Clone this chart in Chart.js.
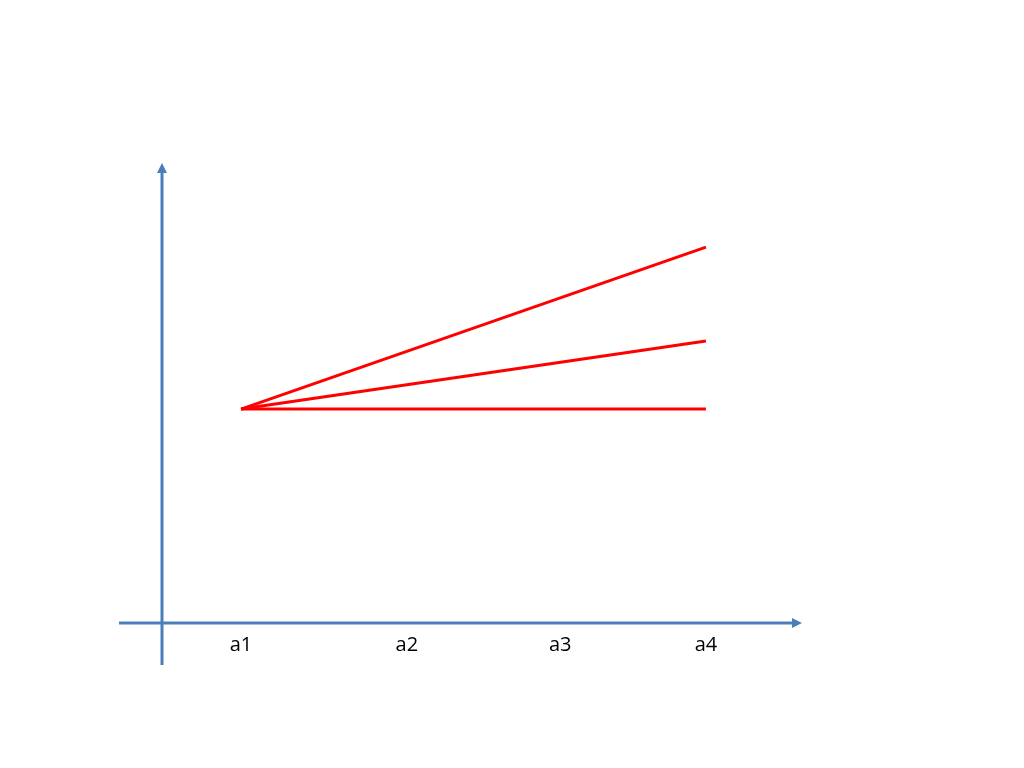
<!DOCTYPE html>
<html>
<head>
<meta charset="utf-8">
<script src="https://cdn.jsdelivr.net/npm/chart.js@4/dist/chart.umd.min.js"></script>
<style>
  html, body { margin: 0; padding: 0; background: #fff; }
  #wrap { width: 1024px; height: 768px; }
</style>
</head>
<body>
<div id="wrap"><canvas id="chart" width="1024" height="768"></canvas></div>
<script>
// categories and where their labels sit on the x scale
const categories = ['a1', 'a2', 'a3', 'a4'];
const tickPos = [1, 2.07, 3.06, 4];

// each line runs from a1 to a4
const lineX = [1, 4];
const steepLine = [4.65, 8.17];
const midLine = [4.65, 6.13];
const flatLine = [4.65, 4.65];

const axisColor = '#4A7EBB';
const lineColor = '#FF0000';

function pts(ys) {
  return ys.map((y, i) => ({ x: lineX[i], y: y }));
}

// draws the two blue axes with arrow heads, placed through the scales
const arrowAxes = {
  id: 'arrowAxes',
  beforeDatasetsDraw(chart) {
    const ctx = chart.ctx;
    const xs = chart.scales.x, ys = chart.scales.y;
    const ox = xs.getPixelForValue(0.49);
    const oy = ys.getPixelForValue(0);
    const area = chart.chartArea;
    ctx.save();
    ctx.strokeStyle = axisColor;
    ctx.fillStyle = axisColor;
    ctx.lineWidth = 3;
    // y axis
    ctx.beginPath();
    ctx.moveTo(ox, oy + 42);
    ctx.lineTo(ox, area.top + 8);
    ctx.stroke();
    ctx.beginPath();
    ctx.moveTo(ox, area.top);
    ctx.lineTo(ox - 5, area.top + 10);
    ctx.lineTo(ox + 5, area.top + 10);
    ctx.closePath();
    ctx.fill();
    // x axis
    ctx.beginPath();
    ctx.moveTo(ox - 43, oy);
    ctx.lineTo(area.right - 8, oy);
    ctx.stroke();
    ctx.beginPath();
    ctx.moveTo(area.right, oy);
    ctx.lineTo(area.right - 10, oy - 5);
    ctx.lineTo(area.right - 10, oy + 5);
    ctx.closePath();
    ctx.fill();
    ctx.restore();
  }
};

new Chart(document.getElementById('chart'), {
  type: 'line',
  data: {
    datasets: [
      { label: 'steep', data: pts(steepLine) },
      { label: 'mid', data: pts(midLine) },
      { label: 'flat', data: pts(flatLine) }
    ]
  },
  options: {
    responsive: false,
    animation: false,
    layout: { padding: { left: 162, top: 163, right: 222, bottom: 101 } },
    elements: {
      line: { borderColor: lineColor, borderWidth: 3, tension: 0, borderCapStyle: 'butt' },
      point: { radius: 0 }
    },
    plugins: { legend: { display: false }, tooltip: { enabled: false } },
    scales: {
      x: {
        type: 'linear',
        min: 0.49,
        max: 4.62,
        grid: { display: false, drawTicks: false },
        border: { display: false },
        afterBuildTicks(scale) {
          scale.ticks = tickPos.map(v => ({ value: v }));
        },
        ticks: {
          padding: 10,
          color: '#000',
          font: { family: 'Open Sans', size: 20 },
          maxRotation: 0,
          autoSkip: false,
          callback: (v, i) => categories[i]
        }
      },
      y: { display: false, min: 0, max: 10 }
    }
  },
  plugins: [arrowAxes]
});
</script>
</body>
</html>
